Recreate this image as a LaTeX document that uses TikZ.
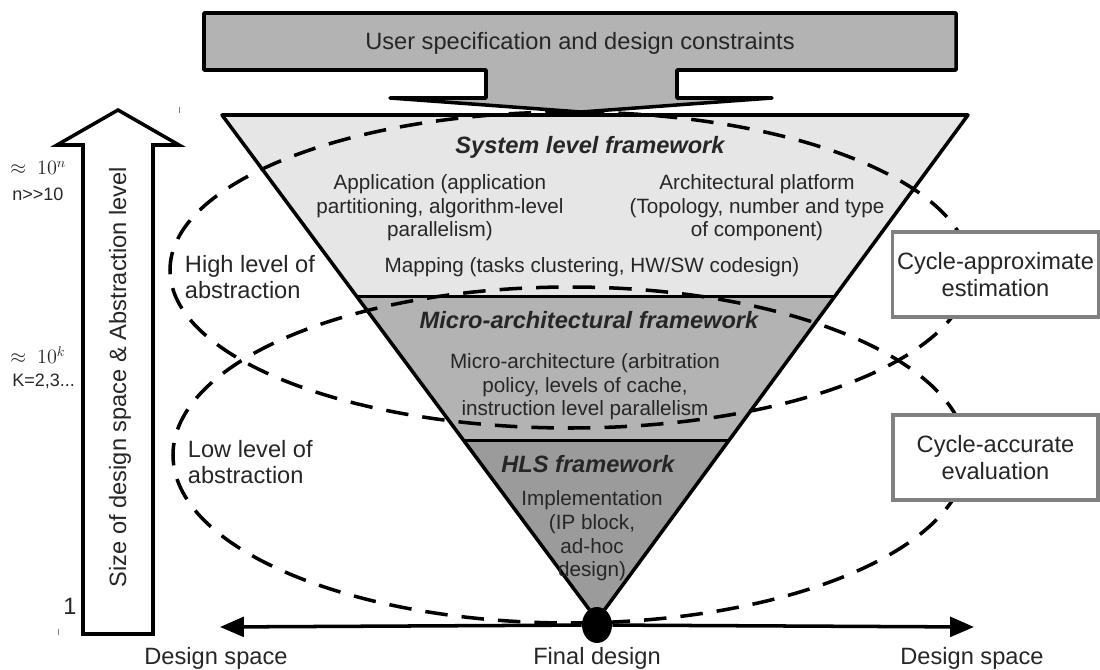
\documentclass[tikz,border=0pt]{standalone}
\usepackage{fontspec}
\setmainfont{Liberation Sans}
\usepackage{amsmath}
\usetikzlibrary{positioning}
\usetikzlibrary{calc}
\usetikzlibrary{arrows.meta}
\usetikzlibrary{shapes.geometric}
\definecolor{lightgrey}{RGB}{230,230,230}
\definecolor{midgrey}{RGB}{179,179,179}
\definecolor{darkgrey}{RGB}{155,155,155}
\definecolor{boxgrey}{RGB}{128,128,128}
\definecolor{txt}{RGB}{38,38,38}

\begin{document}
\begin{tikzpicture}[x=0.025cm,y=-0.025cm,
		thickline/.style={line width=2.5pt},
		ell/.style={line width=2.5pt,dash pattern=on 16pt off 10pt},
		big/.style={font=\fontsize{16.8}{19}\selectfont,text=txt,align=center},
		body/.style={font=\fontsize{14.7}{16.8}\selectfont,text=txt,align=center},
		frame/.style={font=\fontsize{16.8}{19}\selectfont\bfseries\itshape,text=txt},
		small/.style={font=\fontsize{12.8}{15}\selectfont,text=txt,anchor=west,inner sep=0pt},
		estbox/.style={draw=boxgrey,line width=2.5pt,fill=white,minimum width=5.125cm,minimum height=2.125cm}]
		\useasboundingbox (0,0) rectangle (1100,670);
		% user input block arrow
		\draw[thickline,fill=midgrey,line join=round,line cap=round] (204,13) -- (956,13) -- (956,70) -- (677,70) -- (677,98) -- (772,98) -- (581,112) -- (390,98) -- (486,98) -- (486,70) -- (204,70) -- cycle;
		\node[big] (user) at (580,43) {User specification and design constraints};
		% the funnel
		\coordinate (tl) at (222,115);
		\coordinate (tr) at (968,115);
		\coordinate (apex) at (597,620);
		\coordinate (ml) at ($(tl)!0.359!(apex)$);
		\coordinate (mr) at ($(tr)!0.359!(apex)$);
		\coordinate (ll) at ($(tl)!0.645!(apex)$);
		\coordinate (lr) at ($(tr)!0.645!(apex)$);
		\fill[lightgrey] (tl) -- (tr) -- (mr) -- (ml) -- cycle;
		\fill[midgrey] (ml) -- (mr) -- (lr) -- (ll) -- cycle;
		\fill[darkgrey] (ll) -- (lr) -- (apex) -- cycle;
		\draw[thickline,line join=round] (tl) -- (tr) -- (apex) -- cycle;
		\draw[thickline] (ml) -- (mr);
		\draw[thickline] (ll) -- (lr);
		\node[frame] (sys) at (590,147) {System level framework};
		\node[body] (app) at (440,208) {Application (application\\partitioning, algorithm-level\\parallelism)};
		\node[body] (arch) at (757,208) {Architectural platform\\(Topology, number and type\\of component)};
		\node[body] (map) at (592,267) {Mapping (tasks clustering, HW/SW codesign)};
		\node[frame] (micro) at (589,320) {Micro-architectural framework};
		\node[body] (march) at (585,387) {Micro-architecture (arbitration\\policy, levels of cache,\\instruction level parallelism};
		\node[frame] (hls) at (588,464) {HLS framework};
		\node[body] (impl) at (592,536) {Implementation\\(IP block,\\ad-hoc\\design)};
		% abstraction levels
		\draw[ell] (570,270) ellipse [x radius=400,y radius=158];
		\draw[ell] (570,455) ellipse [x radius=397,y radius=168];
		\node[big,align=left,anchor=west] (high) at (180,277) {High level of\\abstraction};
		\node[big,align=left,anchor=west] (low) at (183,462) {Low level of\\abstraction};
		\node[estbox,big] (approx) at (995.5,274.5) {Cycle-approximate\\estimation};
		\node[estbox,big] (accur) at (995.5,457.5) {Cycle-accurate\\evaluation};
		% size axis
		\draw[thickline,fill=white] (83,634) -- (83,145) -- (57,145) -- (118,110) -- (179,145) -- (153,145) -- (153,634) -- cycle;
		\node[big,rotate=90] (size) at (120,377) {Size of design space \& Abstraction level};
		\node[small,font=\fontsize{14}{15}\selectfont] (bign) at (10,168) {$\approx\ 10^n$};
		\node[small] (bignv) at (12,194) {n{>}{>}10};
		\node[small,font=\fontsize{14}{15}\selectfont] (bigk) at (10,355) {$\approx\ 10^k$};
		\node[small] (bigkv) at (12,381) {K=2,3...};
		\node[big] (one) at (70,606) {1};
		\draw[gray,line width=0.6pt] (179,107) -- (179,113);
		\draw[gray,line width=0.6pt] (58,629) -- (58,635);
		% design space axis
		\coordinate (dsl) at (220,627);
		\coordinate (dsr) at (974,627);
		\node[ellipse,fill=black,minimum width=0.75cm,minimum height=0.9cm,inner sep=0pt] (final) at (597,625) {};
		\draw[thickline,-{Triangle[length=17pt,width=14pt]}] (final) -- (dsl);
		\draw[thickline,-{Triangle[length=17pt,width=14pt]}] (final) -- (dsr);
		\node[big] (dsll) at (216,658) {Design space};
		\node[big] (fdl) at (597,658) {Final design};
		\node[big] (dsrl) at (972,658) {Design space};
	\end{tikzpicture}
\end{document}
